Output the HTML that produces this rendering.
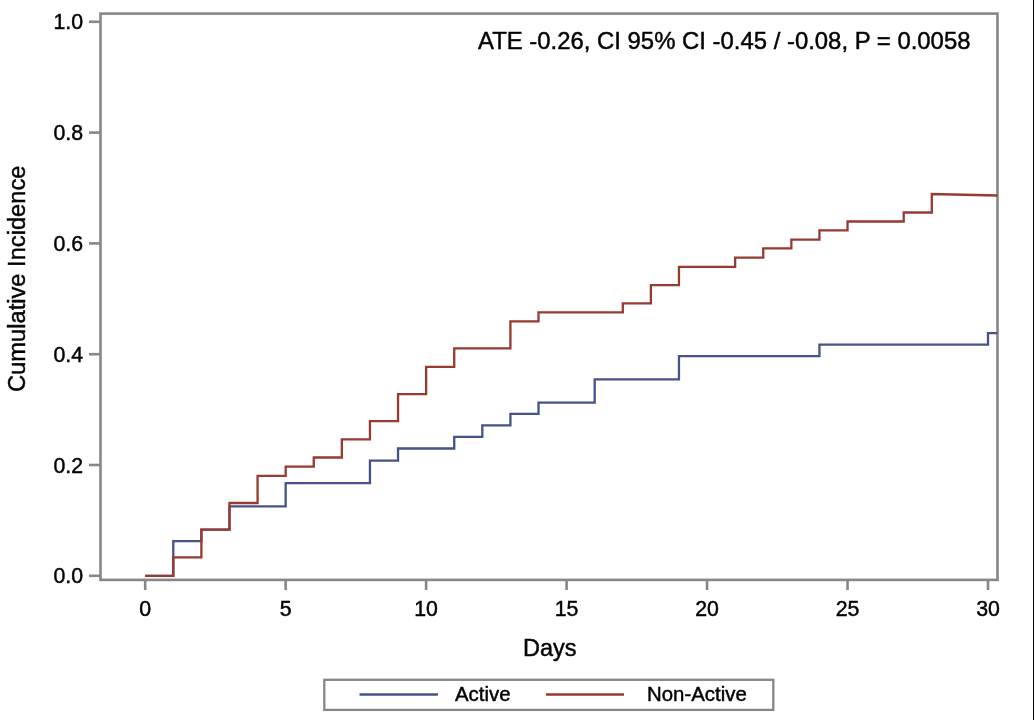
<!DOCTYPE html>
<html><head><meta charset="utf-8"><style>
html,body{margin:0;padding:0;background:#fff;}
body{width:1034px;height:720px;overflow:hidden;position:relative;}
svg{display:block;position:absolute;left:0;top:0;will-change:transform;}
text{font-family:"Liberation Sans",Arial,sans-serif;fill:#000;stroke:#000;stroke-width:0.45px;}
</style></head><body>
<svg width="1034" height="720" viewBox="0 0 1034 720" xmlns="http://www.w3.org/2000/svg">
<g stroke="#878787" stroke-width="2.6" fill="none">
<line x1="89" y1="575.80" x2="100" y2="575.80"/>
<line x1="89" y1="465.00" x2="100" y2="465.00"/>
<line x1="89" y1="354.20" x2="100" y2="354.20"/>
<line x1="89" y1="243.40" x2="100" y2="243.40"/>
<line x1="89" y1="132.60" x2="100" y2="132.60"/>
<line x1="89" y1="21.80" x2="100" y2="21.80"/>
<line x1="145.20" y1="580" x2="145.20" y2="590"/>
<line x1="285.67" y1="580" x2="285.67" y2="590"/>
<line x1="426.13" y1="580" x2="426.13" y2="590"/>
<line x1="566.60" y1="580" x2="566.60" y2="590"/>
<line x1="707.07" y1="580" x2="707.07" y2="590"/>
<line x1="847.53" y1="580" x2="847.53" y2="590"/>
<line x1="988.00" y1="580" x2="988.00" y2="590"/>
<rect x="100.5" y="13.6" width="897" height="566.3"/>
</g>
<g fill="none" stroke-width="2.3" stroke-linejoin="miter" stroke-linecap="butt">
<path d="M145.20,575.80 L173.29,575.80 L173.29,541.20 L201.39,541.20 L201.39,529.70 L229.48,529.70 L229.48,506.40 L285.67,506.40 L285.67,483.10 L369.95,483.10 L369.95,460.60 L398.04,460.60 L398.04,448.50 L454.23,448.50 L454.23,436.90 L482.32,436.90 L482.32,425.30 L510.41,425.30 L510.41,413.90 L538.51,413.90 L538.51,402.60 L594.69,402.60 L594.69,379.30 L678.97,379.30 L678.97,356.10 L819.44,356.10 L819.44,344.60 L988.00,344.60 L988.00,333.20 L997.50,333.20" stroke="#465386"/>
<path d="M145.20,575.80 L173.29,575.80 L173.29,557.40 L201.39,557.40 L201.39,529.70 L229.48,529.70 L229.48,503.00 L257.57,503.00 L257.57,475.80 L285.67,475.80 L285.67,466.70 L313.76,466.70 L313.76,457.50 L341.85,457.50 L341.85,439.30 L369.95,439.30 L369.95,421.20 L398.04,421.20 L398.04,394.10 L426.13,394.10 L426.13,366.80 L454.23,366.80 L454.23,348.30 L510.41,348.30 L510.41,321.40 L538.51,321.40 L538.51,312.40 L622.79,312.40 L622.79,303.30 L650.88,303.30 L650.88,285.10 L678.97,285.10 L678.97,266.80 L735.16,266.80 L735.16,257.70 L763.25,257.70 L763.25,248.40 L791.35,248.40 L791.35,239.70 L819.44,239.70 L819.44,230.40 L847.53,230.40 L847.53,221.50 L903.72,221.50 L903.72,212.50 L931.81,212.50 L931.81,194.00 L997.50,195.50" stroke="#973a31"/>
</g>
<g font-size="21.3">
<text x="83" y="583.40" text-anchor="end">0.0</text>
<text x="83" y="472.60" text-anchor="end">0.2</text>
<text x="83" y="361.80" text-anchor="end">0.4</text>
<text x="83" y="251.00" text-anchor="end">0.6</text>
<text x="83" y="140.20" text-anchor="end">0.8</text>
<text x="83" y="29.40" text-anchor="end">1.0</text>
<text x="145.20" y="616.2" text-anchor="middle">0</text>
<text x="285.67" y="616.2" text-anchor="middle">5</text>
<text x="426.13" y="616.2" text-anchor="middle">10</text>
<text x="566.60" y="616.2" text-anchor="middle">15</text>
<text x="707.07" y="616.2" text-anchor="middle">20</text>
<text x="847.53" y="616.2" text-anchor="middle">25</text>
<text x="988.00" y="616.2" text-anchor="middle">30</text>
</g>
<text x="478" y="48.7" font-size="23.9">ATE -0.26, CI 95% CI -0.45 / -0.08, P = 0.0058</text>
<text x="549.8" y="655.6" font-size="23.5" text-anchor="middle">Days</text>
<text transform="translate(24.7,278.75) rotate(-90)" font-size="23.68" text-anchor="middle">Cumulative Incidence</text>
<rect x="324.3" y="679.8" width="449" height="30.1" fill="none" stroke="#878787" stroke-width="2.3"/>
<line x1="359.5" y1="694.5" x2="438" y2="694.5" stroke="#465386" stroke-width="2.3"/>
<line x1="546" y1="694.5" x2="624" y2="694.5" stroke="#973a31" stroke-width="2.3"/>
<text x="455" y="701.2" font-size="20.4">Active</text>
<text x="647" y="701.2" font-size="20.4">Non-Active</text>
<rect x="1033" y="0" width="1" height="720" fill="#000"/>
</svg>
</body></html>
